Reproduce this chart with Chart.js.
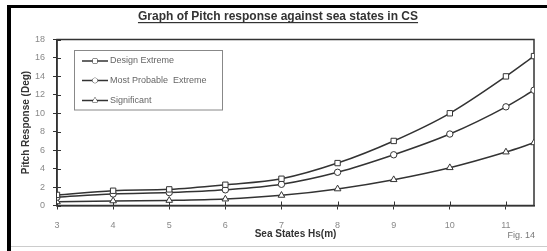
<!DOCTYPE html>
<html>
<head>
<meta charset="utf-8">
<script src="https://cdn.jsdelivr.net/npm/chart.js@4"></script>
<style>
  html, body { margin: 0; padding: 0; background: #fff; }
  #wrap { position: relative; width: 547px; height: 251px; overflow: hidden; }
  #frameTop { position: absolute; left: 7px; top: 5px; width: 540px; height: 3px; background: #000; }
  #frameLeft { position: absolute; left: 7px; top: 5px; width: 4px; height: 246px; background: #000; }
  #frameBottom { position: absolute; left: 11px; top: 246px; width: 536px; height: 1px; background: #ccc; }
  canvas { position: absolute; left: 0; top: 0; }
</style>
</head>
<body>
<div id="wrap">
  <canvas id="chart" width="547" height="251"></canvas>
  <div id="frameTop"></div>
  <div id="frameLeft"></div>
  <div id="frameBottom"></div>
</div>
<script>
(function () {
  'use strict';

  // sea state (Hs, m) and pitch response values
  const seaStates = [3, 4, 5, 6, 7, 8, 9, 10, 11, 11.5];
  const designExtreme = [1.15, 1.6, 1.75, 2.25, 2.9, 4.6, 7.0, 10.0, 14.0, 16.2];
  const mostProbable = [0.9, 1.25, 1.4, 1.7, 2.3, 3.6, 5.5, 7.75, 10.7, 12.5];
  const significant = [0.4, 0.5, 0.55, 0.7, 1.1, 1.8, 2.8, 4.1, 5.8, 6.8];

  const seriesNames = ['Design Extreme', 'Most Probable  Extreme', 'Significant'];
  const xTicks = [3, 4, 5, 6, 7, 8, 9, 10, 11];
  const yTicks = [0, 2, 4, 6, 8, 10, 12, 14, 16, 18];

  const FONT = "'Liberation Sans', Arial, sans-serif";
  const INK = '#333';

  function pts(vals) {
    return vals.map((v, i) => ({ x: seaStates[i], y: v }));
  }

  function series(label, vals, style, radius) {
    return {
      label: label,
      data: pts(vals),
      borderColor: INK,
      borderWidth: 1.5,
      pointStyle: style,
      pointRadius: radius,
      pointBackgroundColor: '#fff',
      pointBorderColor: INK,
      pointBorderWidth: 1,
      cubicInterpolationMode: 'monotone',
      fill: false,
    };
  }

  // plot frame, inner tick marks, title, legend box and figure label
  const decor = {
    id: 'decor',
    beforeDatasetsDraw(chart) {
      const ctx = chart.ctx;
      const a = chart.chartArea;
      const xs = chart.scales.x, ys = chart.scales.y;
      ctx.save();
      ctx.strokeStyle = INK;
      ctx.lineWidth = 1.5;
      ctx.strokeRect(a.left, a.top, a.right - a.left, a.bottom - a.top);
      ctx.lineWidth = 1;
      ctx.beginPath();
      xTicks.forEach(v => {
        const px = Math.round(xs.getPixelForValue(v)) + 0.5;
        ctx.moveTo(px, a.bottom); ctx.lineTo(px, a.bottom - 4);
      });
      yTicks.forEach(v => {
        const py = Math.round(ys.getPixelForValue(v)) + 0.5;
        ctx.moveTo(a.left, py); ctx.lineTo(a.left + 4, py);
      });
      ctx.stroke();
      ctx.restore();
    },
    afterDraw(chart) {
      const ctx = chart.ctx;
      ctx.save();

      // title, bold and underlined
      const title = 'Graph of Pitch response against sea states in CS';
      ctx.font = 'bold 12px ' + FONT;
      ctx.fillStyle = INK;
      ctx.textAlign = 'center';
      ctx.textBaseline = 'alphabetic';
      const cx = 278;
      ctx.fillText(title, cx, 20);
      const w = ctx.measureText(title).width;
      ctx.fillRect(cx - w / 2, 22, w, 1.2);

      // legend
      const bx = 74, by = 50.5, bw = 148, bh = 59.5;
      ctx.fillStyle = '#fff';
      ctx.fillRect(bx, by, bw, bh);
      ctx.strokeStyle = '#888';
      ctx.lineWidth = 1;
      ctx.strokeRect(bx + 0.5, by, bw, bh);
      const rows = [61, 80.5, 100.5];
      chart.data.datasets.forEach((ds, i) => {
        const y = rows[i];
        ctx.strokeStyle = INK;
        ctx.lineWidth = 1.5;
        ctx.beginPath();
        ctx.moveTo(82, y); ctx.lineTo(108, y);
        ctx.stroke();
        ctx.fillStyle = '#fff';
        ctx.lineWidth = 1;
        Chart.helpers.drawPoint(ctx, {
          pointStyle: ds.pointStyle, radius: ds.pointRadius - 0.8, borderWidth: 1,
        }, 95, y);
        ctx.fill();
        ctx.fillStyle = '#666';
        ctx.font = '9px ' + FONT;
        ctx.textAlign = 'left';
        ctx.textBaseline = 'middle';
        ctx.fillText(ds.label, 110, y);
      });

      // figure label
      ctx.fillStyle = '#777';
      ctx.font = '9px ' + FONT;
      ctx.textAlign = 'right';
      ctx.textBaseline = 'middle';
      ctx.fillText('Fig. 14', 535, 236);
      ctx.restore();
    },
  };

  new Chart(document.getElementById('chart'), {
    type: 'line',
    data: {
      datasets: [
        series(seriesNames[0], designExtreme, 'rect', 3.8),
        series(seriesNames[1], mostProbable, 'circle', 3.2),
        series(seriesNames[2], significant, 'triangle', 3.8),
      ],
    },
    options: {
      responsive: false,
      animation: false,
      layout: { padding: { left: 16, top: 39.5, right: 13, bottom: 7 } },
      plugins: {
        legend: { display: false },
        title: { display: false },
        tooltip: { enabled: false },
      },
      scales: {
        x: {
          type: 'linear',
          min: 3,
          max: 11.5,
          afterBuildTicks: (s) => { s.ticks = xTicks.map(v => ({ value: v })); },
          afterFit: (s) => { s.height = 251 - 7 - 205.5; },
          ticks: { color: '#888', font: { family: FONT, size: 9 }, padding: 11, maxRotation: 0 },
          grid: { drawOnChartArea: false, tickLength: 4, color: INK },
          border: { color: INK, width: 1.5 },
          title: {
            display: true,
            text: 'Sea States Hs(m)',
            color: INK,
            font: { family: FONT, size: 10, weight: 'bold' },
            padding: { top: 0, bottom: 4 },
          },
        },
        y: {
          min: 0,
          max: 18,
          afterBuildTicks: (s) => { s.ticks = yTicks.map(v => ({ value: v })); },
          afterFit: (s) => { s.width = 57 - 16; },
          ticks: { color: '#888', font: { family: FONT, size: 9 }, padding: 8 },
          grid: { drawOnChartArea: false, tickLength: 4, color: INK },
          border: { color: INK, width: 1.5 },
          title: {
            display: true,
            text: 'Pitch Response (Deg)',
            color: INK,
            font: { family: FONT, size: 10, weight: 'bold' },
            padding: { top: 4, bottom: 0 },
          },
        },
      },
    },
    plugins: [decor],
  });
})();
</script>
</body>
</html>
